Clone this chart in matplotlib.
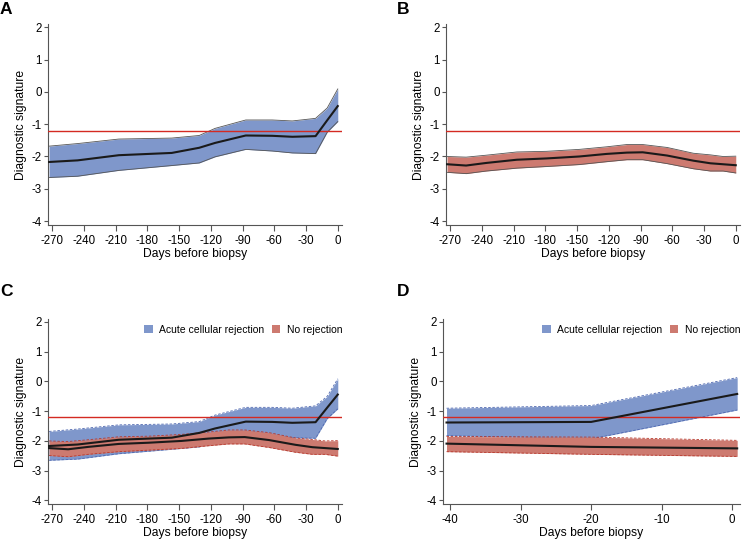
import numpy as np
import matplotlib
matplotlib.use("Agg")
import matplotlib.pyplot as plt
from matplotlib.patches import Patch

plt.rcParams['font.family'] = ['Liberation Sans', 'DejaVu Sans']
plt.rcParams['axes.unicode_minus'] = False

# Acute cellular rejection (panel A, also in C)
acr_days = [-273, -246, -207, -157, -131, -116, -87, -62, -43, -21, -10, 0]
acr_mean = [-2.17, -2.12, -1.96, -1.89, -1.73, -1.58, -1.35, -1.36, -1.39, -1.37, -0.88, -0.44]
acr_upper = [-1.68, -1.60, -1.46, -1.43, -1.35, -1.13, -0.87, -0.87, -0.90, -0.82, -0.50, 0.09]
acr_lower = [-2.65, -2.61, -2.43, -2.28, -2.20, -2.01, -1.78, -1.83, -1.89, -1.91, -1.25, -0.92]

# No rejection (panel B, also in C)
nr_days = [-273, -255, -236, -207, -179, -148, -122, -103, -88, -65, -40, -24, -12, 0]
nr_mean = [-2.24, -2.28, -2.20, -2.10, -2.06, -2.00, -1.92, -1.88, -1.87, -1.97, -2.13, -2.21, -2.24, -2.27]
nr_upper = [-2.00, -2.02, -1.96, -1.86, -1.84, -1.78, -1.70, -1.63, -1.63, -1.72, -1.90, -1.95, -2.00, -1.99]
nr_lower = [-2.49, -2.53, -2.45, -2.36, -2.31, -2.25, -2.16, -2.10, -2.10, -2.22, -2.38, -2.45, -2.45, -2.51]

# last 40 days (panel D)
d_days = [-40.5, -20, 0.7]
d_acr_mean = [-1.38, -1.36, -0.42]
d_acr_upper = [-0.90, -0.81, 0.13]
d_acr_lower = [-1.82, -1.93, -0.96]
d_nr_mean = [-2.09, -2.20, -2.25]
d_nr_upper = [-1.85, -1.87, -1.98]
d_nr_lower = [-2.36, -2.45, -2.52]

threshold = -1.2
long_ticks = [-270, -240, -210, -180, -150, -120, -90, -60, -30, 0]
short_ticks = [-40, -30, -20, -10, 0]
y_ticks = [-4, -3, -2, -1, 0, 1, 2]

blue = '#7f97cb'
red = '#cd7a70'
blue_edge = '#4f68b0'
red_edge = '#b83a2e'
thr_color = '#d42a22'
spine_col = '#555555'

W, H = 743, 543
fig = plt.figure(figsize=(W / 100, H / 100), dpi=100)


def px_axes(left, top, width, height):
    return fig.add_axes([left / W, 1 - (top + height) / H, width / W, height / H])


def style(ax, xticks, xlim):
    ax.set_xlim(*xlim)
    ax.set_ylim(-4.12, 2.1)
    ax.set_xticks(xticks)
    ax.set_yticks(y_ticks)
    ax.set_xticklabels([str(t) for t in xticks])
    ax.set_yticklabels([str(t) for t in y_ticks])
    for s in ['top', 'right']:
        ax.spines[s].set_visible(False)
    for s in ['left', 'bottom']:
        ax.spines[s].set_color(spine_col)
        ax.spines[s].set_linewidth(0.8)
    ax.tick_params(axis='x', direction='out', length=4, width=0.8, color=spine_col,
                   labelsize=8.3, pad=3.5)
    ax.tick_params(axis='y', direction='out', length=3, width=0.8, color=spine_col,
                   labelsize=8.3, pad=1.5)
    ax.set_xlabel('Days before biopsy', fontsize=8.7, labelpad=0.5)
    ax.set_ylabel('Diagnostic signature', fontsize=8.7, labelpad=3)
    ax.axhline(threshold, color=thr_color, lw=1.0, zorder=3)


def band_solid(ax, x, lo, hi, mean, color):
    ax.fill_between(x, lo, hi, color=color, lw=0, zorder=1)
    ax.plot(x, hi, color='#555555', lw=0.6, zorder=2)
    ax.plot(x, lo, color='#555555', lw=0.6, zorder=2)
    ax.plot(x, mean, color='#1a1a1a', lw=1.5, zorder=4)


def band_dashed(ax, x, lo, hi, mean, color, edge, z):
    ax.fill_between(x, lo, hi, color=color, lw=0, zorder=z)
    ax.plot(x, hi, color=edge, lw=0.6, ls=(0, (3, 2)), zorder=z + 0.5)
    ax.plot(x, lo, color=edge, lw=0.6, ls=(0, (3, 2)), zorder=z + 0.5)
    ax.plot(x, mean, color='#1a1a1a', lw=1.5, zorder=4)


def add_legend(ax):
    handles = [Patch(facecolor=blue, edgecolor='none', label='Acute cellular rejection'),
               Patch(facecolor=red, edgecolor='none', label='No rejection')]
    ax.legend(handles=handles, loc='upper right', bbox_to_anchor=(1.02, 1.0),
              ncol=2, frameon=False, fontsize=7.5, handlelength=0.85, handleheight=0.85,
              handletextpad=0.6, columnspacing=0.7, borderaxespad=0.15)


long_xlim = (-274, 4)
short_xlim = (-41, 1.1)

axA = px_axes(48, 24, 294, 201)
band_solid(axA, acr_days, acr_lower, acr_upper, acr_mean, blue)
style(axA, long_ticks, long_xlim)

axB = px_axes(446, 24, 294, 201)
band_solid(axB, nr_days, nr_lower, nr_upper, nr_mean, red)
style(axB, long_ticks, long_xlim)

axC = px_axes(48, 319, 294, 185)
band_dashed(axC, acr_days, acr_lower, acr_upper, acr_mean, blue, blue_edge, 1)
band_dashed(axC, nr_days, nr_lower, nr_upper, nr_mean, red, red_edge, 1.6)
style(axC, long_ticks, long_xlim)
add_legend(axC)

axD = px_axes(443, 319, 297, 185)
band_dashed(axD, d_days, d_acr_lower, d_acr_upper, d_acr_mean, blue, blue_edge, 1)
band_dashed(axD, d_days, d_nr_lower, d_nr_upper, d_nr_mean, red, red_edge, 1.6)
style(axD, short_ticks, short_xlim)
add_legend(axD)

for lab, x, y in [('A', 0, 2), ('B', 397, 2), ('C', 0, 284), ('D', 397, 284)]:
    fig.text(x / W, 1 - y / H, lab, fontsize=12.5, fontweight='bold', ha='left', va='top')

fig.savefig('out.png', dpi=100)
